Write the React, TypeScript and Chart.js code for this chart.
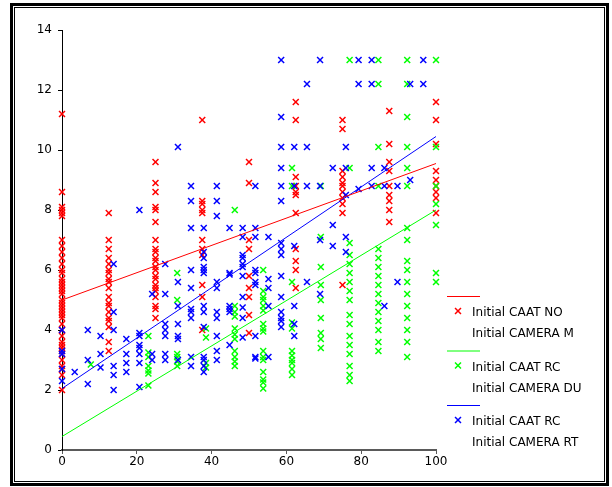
import { useEffect, useRef } from "react";
import { Chart, registerables } from "chart.js";

Chart.register(...registerables);

const FONT = '"DejaVu Sans", Verdana, sans-serif';
const FONT_SIZE = 12;

// axis ranges and tick steps
const xRange = [0, 100];
const yRange = [0, 14];
const xStep = 20;
const yStep = 2;

// legend text: each series pairs a CAAT measure with a CAMERA measure
const seriesNames = [
  ["Initial CAAT NO", "Initial CAMERA M"],
  ["Initial CAAT RC", "Initial CAMERA DU"],
  ["Initial CAAT RC", "Initial CAMERA RT"],
];
const seriesColors = ["#ff0000", "#00ff00", "#0000ff"];

// NO / M observations, grouped by x value
const redX = [0, 12.5, 25, 37.5, 50, 62.5, 75, 87.5, 100];
const redY = [
  [11.2, 8.6, 8.1, 8.0, 7.9, 7.8, 7.0, 6.8, 6.6, 6.4, 6.2, 6.0, 5.9, 5.7, 5.6, 5.5, 5.4, 5.3, 5.2, 5.0, 4.9, 4.8, 4.7, 4.6, 4.5, 4.4, 4.2, 4.0, 3.8, 3.6, 3.5, 3.4, 3.3, 3.2, 3.0, 2.8, 2.7, 2.5, 2.0],
  [7.9, 7.0, 6.7, 6.4, 6.2, 6.0, 5.9, 5.7, 5.6, 5.4, 5.1, 4.9, 4.8, 4.6, 4.4, 4.3, 4.1, 3.6, 3.3],
  [9.6, 8.9, 8.6, 8.1, 8.0, 7.6, 7.0, 6.7, 6.6, 6.4, 6.3, 6.1, 6.0, 5.8, 5.7, 5.5, 5.4, 5.3, 5.1, 4.8, 4.7, 4.4],
  [11.0, 8.3, 8.2, 8.0, 7.9, 7.0, 6.7, 6.5, 5.5, 5.1, 4.0],
  [9.6, 8.9, 7.0, 6.7, 5.8, 5.4, 5.1, 4.5, 3.9],
  [11.6, 11.0, 9.1, 8.8, 8.6, 8.5, 7.9, 6.7, 6.3, 6.0, 5.4],
  [11.0, 10.7, 9.3, 9.1, 8.9, 8.8, 8.6, 8.4, 8.2, 7.9, 5.5],
  [11.3, 10.2, 9.6, 9.3, 8.8, 8.5, 8.3, 8.0, 7.6],
  [11.6, 11.0, 10.2, 9.3, 9.0, 8.8, 8.6, 8.4, 7.9],
];

// RC / DU observations
const greenX = [7.7, 23.1, 30.8, 38.5, 46.2, 53.8, 61.5, 69.2, 76.9, 84.6, 92.3, 100];
const greenY = [
  [2.85],
  [3.8, 3.25, 3.1, 2.8, 2.65, 2.55, 2.15],
  [5.9, 5.0, 3.2, 3.1, 2.95, 2.8],
  [4.05, 3.75, 2.9, 2.75],
  [8.0, 4.8, 4.6, 4.45, 4.05, 3.85, 3.7, 3.3, 3.1, 2.95, 2.8],
  [6.0, 5.3, 5.1, 5.0, 4.8, 4.65, 4.2, 4.05, 3.95, 3.3, 3.1, 3.0, 2.6, 2.35, 2.25, 2.05],
  [9.4, 8.8, 5.6, 4.25, 4.05, 3.3, 3.15, 3.0, 2.9, 2.7, 2.5],
  [8.8, 7.1, 6.1, 5.5, 5.0, 4.4, 3.9, 3.7, 3.4],
  [13.0, 9.4, 6.9, 6.5, 6.2, 5.9, 5.6, 5.3, 5.0, 4.5, 4.2, 3.8, 3.5, 3.2, 2.8, 2.5, 2.3],
  [13.0, 12.2, 10.1, 8.8, 6.7, 6.4, 6.1, 5.8, 5.5, 5.2, 4.9, 4.6, 4.3, 4.0, 3.6, 3.3],
  [13.0, 12.2, 11.1, 10.1, 9.4, 8.8, 7.4, 7.0, 6.3, 6.0, 5.6, 5.2, 4.8, 4.4, 4.0, 3.6, 3.1],
  [13.0, 10.1, 8.8, 8.2, 7.5, 5.9, 5.6],
];

// RC / RT observations
const blueX = [0, 3.4, 6.9, 10.3, 13.8, 17.2, 20.7, 24.1, 27.6, 31.0, 34.5, 37.9, 41.4, 44.8, 48.3, 51.7, 55.2, 58.6, 62.1, 65.5, 69.0, 72.4, 75.9, 79.3, 82.8, 86.2, 89.7, 93.1, 96.6];
const blueY = [
  [4.0, 3.3, 3.2, 2.7, 2.3],
  [2.6],
  [4.0, 3.0, 2.2],
  [3.8, 3.2, 2.75],
  [6.2, 4.6, 4.0, 2.8, 2.5, 2.0],
  [3.7, 3.2, 2.9, 2.6],
  [8.0, 3.9, 3.8, 3.5, 3.4, 3.2, 2.9, 2.1],
  [5.2, 3.2, 3.0],
  [6.2, 5.2, 4.2, 4.0, 3.8, 3.2, 3.0],
  [10.1, 5.6, 4.8, 4.2, 3.8, 3.7, 3.0],
  [8.8, 8.3, 7.4, 6.0, 5.4, 4.7, 4.6, 4.4, 3.1, 2.8],
  [7.4, 6.6, 6.4, 6.1, 6.0, 5.9, 4.8, 4.6, 4.1, 3.1, 3.0, 2.8, 2.6],
  [8.8, 8.3, 7.8, 5.6, 5.4, 4.6, 4.4, 3.8, 3.3, 3.0],
  [7.4, 5.9, 5.85, 4.8, 4.7, 4.6, 3.5],
  [7.4, 7.1, 6.5, 6.4, 6.2, 6.1, 5.8, 5.1, 4.75, 4.4, 3.75],
  [8.8, 7.4, 7.1, 6.0, 5.9, 5.6, 5.5, 3.8, 3.1, 3.05],
  [7.1, 5.7, 5.4, 4.8, 3.1],
  [13.0, 11.1, 10.1, 9.4, 8.8, 8.3, 6.9, 6.7, 6.5, 5.8, 5.1, 4.6, 4.4, 4.3, 4.1],
  [10.1, 8.8, 6.8, 4.8, 4.2, 3.8],
  [12.2, 10.1, 8.8, 5.6],
  [13.0, 8.8, 7.0, 5.2],
  [9.4, 7.5, 6.8],
  [10.1, 9.4, 8.5, 7.1, 6.6],
  [13.0, 12.2, 8.7],
  [13.0, 12.2, 9.4, 8.8],
  [9.4, 8.8, 4.8],
  [8.8, 5.6],
  [12.2, 9.0],
  [13.0, 12.2],
];

// fitted trend lines: value at the two ends of the x range
const fitX = [0, 100];
const redFit = [5.0, 9.55];
const greenFit = [0.45, 8.0];
const blueFit = [2.05, 10.45];

const toPoints = (xs: number[], ys: number[][]) =>
  xs.flatMap((x, i) => ys[i].map((y) => ({ x, y })));

const toLine = (ends: number[]) => fitX.map((x, i) => ({ x, y: ends[i] }));

const MARK_R = 4.2;

function drawMark(ctx: CanvasRenderingContext2D, x: number, y: number, color: string) {
  const d = MARK_R * Math.SQRT1_2;
  ctx.save();
  ctx.strokeStyle = color;
  ctx.lineWidth = 1.5;
  ctx.beginPath();
  ctx.moveTo(x - d, y - d);
  ctx.lineTo(x + d, y + d);
  ctx.moveTo(x - d, y + d);
  ctx.lineTo(x + d, y - d);
  ctx.stroke();
  ctx.restore();
}

// legend at the right of the plot: trend line swatch, marker, two text rows
const sideLegend = {
  id: "sideLegend",
  afterDraw(chart: Chart) {
    const { ctx } = chart;
    const left = chart.chartArea.right + 11;
    ctx.save();
    ctx.font = `${FONT_SIZE}px ${FONT}`;
    ctx.textBaseline = "middle";
    ctx.textAlign = "left";
    seriesNames.forEach((rows, i) => {
      const top = 296 + i * 54.5;
      const color = seriesColors[i];
      ctx.strokeStyle = color;
      ctx.lineWidth = 1;
      ctx.beginPath();
      ctx.moveTo(left, top + 0.5);
      ctx.lineTo(left + 33, top + 0.5);
      ctx.stroke();
      drawMark(ctx, left + 11, top + 15, color);
      ctx.fillStyle = "#000";
      rows.forEach((t, r) => ctx.fillText(t, left + 25, top + 17 + r * 21));
    });
    ctx.restore();
  },
};

export default function App() {
  const ref = useRef<HTMLCanvasElement>(null);

  useEffect(() => {
    const canvas = ref.current;
    if (!canvas) return;
    const scatterSets = [
      toPoints(redX, redY),
      toPoints(greenX, greenY),
      toPoints(blueX, blueY),
    ].map((data, i) => ({
      type: "scatter" as const,
      label: seriesNames[i].join(" / "),
      data,
      pointStyle: "crossRot" as const,
      pointRadius: MARK_R,
      pointBorderWidth: 1.5,
      borderColor: seriesColors[i],
      backgroundColor: seriesColors[i],
      showLine: false,
      clip: false as const,
      order: 3 - i,
    }));
    const lineSets = [redFit, greenFit, blueFit].map((ends, i) => ({
      type: "line" as const,
      label: "fit " + seriesNames[i].join(" / "),
      data: toLine(ends),
      borderColor: seriesColors[i],
      borderWidth: 1,
      pointRadius: 0,
      showLine: true,
      fill: false,
      clip: false as const,
      order: 0,
    }));

    const chart = new Chart(canvas, {
      type: "scatter",
      data: { datasets: [...scatterSets, ...lineSets] as any },
      options: {
        animation: false,
        responsive: false,
        devicePixelRatio: 1,
        layout: { padding: { left: 0, top: 30, right: 176, bottom: 0 } },
        plugins: {
          legend: { display: false },
          tooltip: { enabled: false },
        },
        scales: {
          x: {
            type: "linear",
            min: xRange[0],
            max: xRange[1],
            afterFit: (s: any) => {
              s.height = 37;
            },
            border: { display: true, color: "#5a5a5a", width: 2 },
            grid: { display: true, drawOnChartArea: false, drawTicks: true, tickLength: 4, color: "#5a5a5a" },
            ticks: {
              stepSize: xStep,
              padding: 1,
              color: "#000",
              font: { family: FONT, size: FONT_SIZE },
              maxRotation: 0,
            },
          },
          y: {
            type: "linear",
            min: yRange[0],
            max: yRange[1],
            afterFit: (s: any) => {
              s.width = 62;
            },
            border: { display: true, color: "#000", width: 1 },
            grid: { display: true, drawOnChartArea: false, drawTicks: true, tickLength: 4, color: "#000" },
            ticks: {
              stepSize: yStep,
              padding: 6,
              color: "#000",
              font: { family: FONT, size: FONT_SIZE },
            },
          },
        },
      },
      plugins: [sideLegend],
    });
    return () => chart.destroy();
  }, []);

  return (
    <div style={{ position: "absolute", left: 0, top: 0, width: 612, height: 487, background: "#fff" }}>
      <div
        style={{
          position: "absolute",
          left: 10,
          top: 3,
          width: 599,
          height: 483,
          boxSizing: "border-box",
          border: "3px solid #000",
        }}
      />
      <div
        style={{
          position: "absolute",
          left: 14,
          top: 7,
          width: 591,
          height: 475,
          boxSizing: "border-box",
          border: "1px solid #000",
        }}
      />
      <canvas
        ref={ref}
        width={612}
        height={487}
        style={{ position: "absolute", left: 0, top: 0, width: 612, height: 487 }}
      />
    </div>
  );
}
